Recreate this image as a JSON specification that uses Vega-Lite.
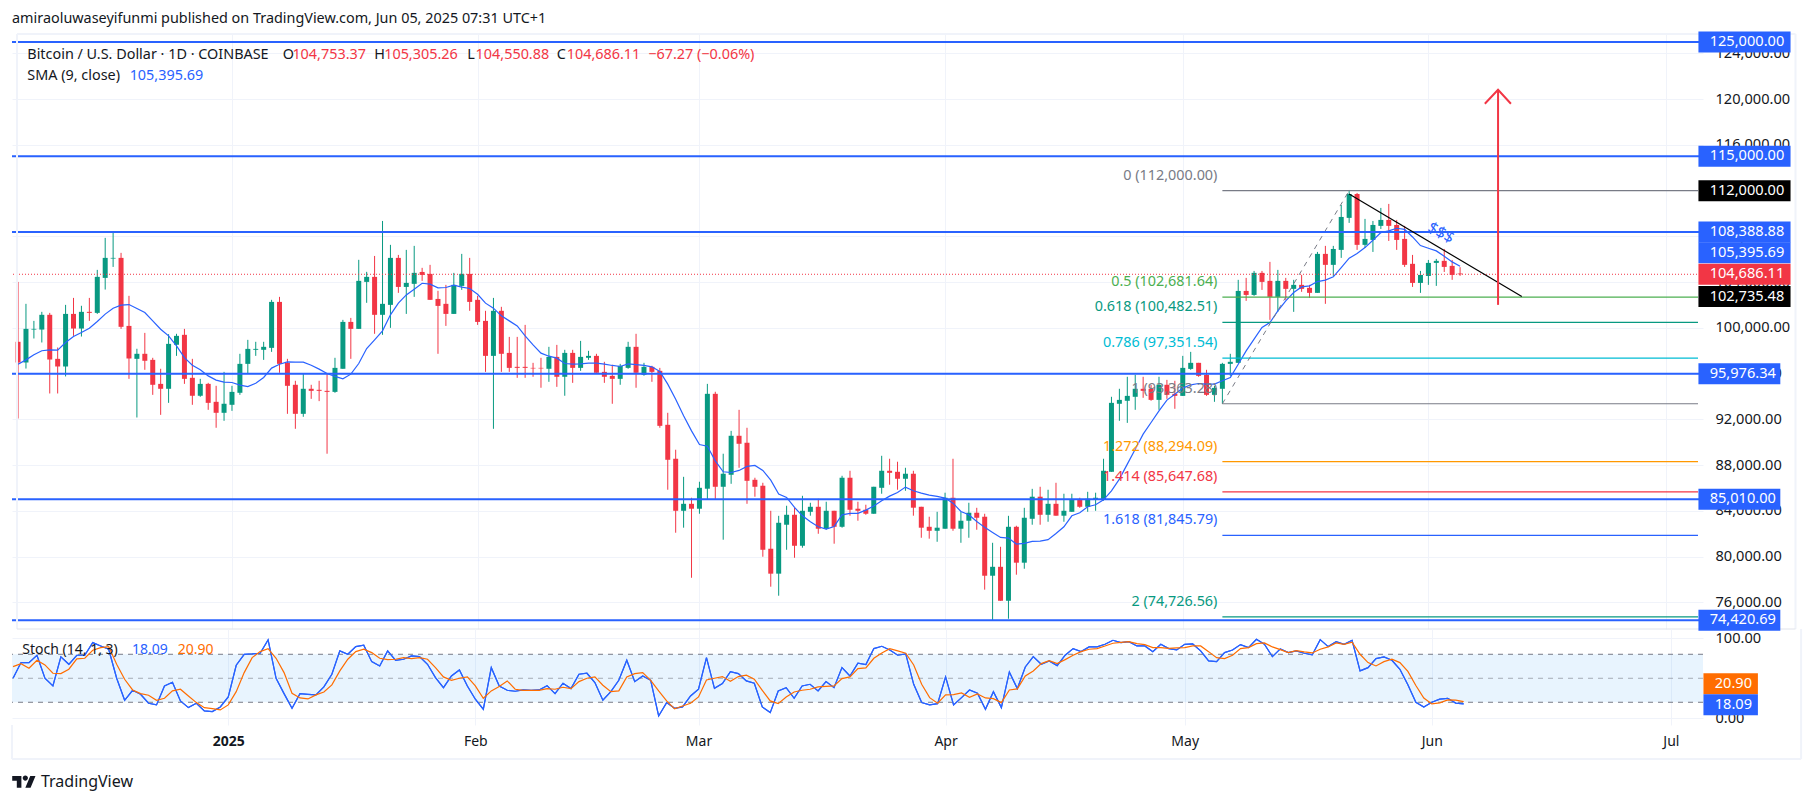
{
"$schema":"https://vega.github.io/schema/vega-lite/v6.json",
"padding":{"left":10,"top":11,"right":0,"bottom":12},
"background":"white",
"title":{"text":"amiraoluwaseyifunmi published on TradingView.com, Jun 05, 2025 07:31 UTC+1","anchor":"start","frame":"group","font":"Noto Sans","fontSize":14.4,"fontWeight":"normal","color":"#131722","offset":5},
"config":{"view":{"stroke":null},"font":"Noto Sans"},
"data":{"values":[{"note":"annotation"}]},
"datasets":{
"bars":[
{"date":"2024-12-05","open":98780,"high":104020,"low":92070,"close":96970,"sma":96820,"k":50,"d":64.6},
{"date":"2024-12-06","open":96970,"high":102100,"low":96440,"close":99910,"sma":97200,"k":69.6,"d":68.3},
{"date":"2024-12-07","open":99850,"high":100610,"low":99070,"close":99910,"sma":97640,"k":69.6,"d":62.5},
{"date":"2024-12-08","open":99850,"high":101400,"low":98720,"close":101140,"sma":98000,"k":78.8,"d":72.5},
{"date":"2024-12-09","open":101140,"high":101310,"low":94260,"close":97230,"sma":98080,"k":50,"d":66.7},
{"date":"2024-12-10","open":97290,"high":98280,"low":94260,"close":96620,"sma":98050,"k":40.4,"d":56.3},
{"date":"2024-12-11","open":96620,"high":102010,"low":95750,"close":101220,"sma":98720,"k":76.7,"d":55.8},
{"date":"2024-12-12","open":101220,"high":102620,"low":99300,"close":99940,"sma":99240,"k":67.5,"d":61.3},
{"date":"2024-12-13","open":99940,"high":101930,"low":99240,"close":101400,"sma":99590,"k":78.8,"d":74.2},
{"date":"2024-12-14","open":101400,"high":102620,"low":100610,"close":101310,"sma":99970,"k":78.8,"d":75},
{"date":"2024-12-15","open":101310,"high":105070,"low":101220,"close":104460,"sma":100560,"k":94.6,"d":85},
{"date":"2024-12-16","open":104370,"high":107870,"low":103350,"close":106120,"sma":101200,"k":90.4,"d":88.3},
{"date":"2024-12-17","open":106060,"high":108340,"low":105330,"close":106120,"sma":101720,"k":86.3,"d":89.6},
{"date":"2024-12-18","open":106120,"high":106560,"low":99910,"close":100090,"sma":101980,"k":50,"d":67.5},
{"date":"2024-12-19","open":100170,"high":102800,"low":95540,"close":97320,"sma":102040,"k":22.5,"d":48.8},
{"date":"2024-12-20","open":97290,"high":98170,"low":92160,"close":97730,"sma":101690,"k":35,"d":35.4},
{"date":"2024-12-21","open":97730,"high":99560,"low":96330,"close":97120,"sma":101340,"k":30,"d":30.8},
{"date":"2024-12-22","open":97200,"high":97380,"low":94140,"close":95020,"sma":100610,"k":18.8,"d":28.8},
{"date":"2024-12-23","open":95100,"high":96420,"low":92390,"close":94670,"sma":99880,"k":16.7,"d":22.5},
{"date":"2024-12-24","open":94670,"high":99450,"low":93440,"close":98600,"sma":99300,"k":40.4,"d":25},
{"date":"2024-12-25","open":98520,"high":99480,"low":97550,"close":99300,"sma":98430,"k":45,"d":34.2},
{"date":"2024-12-26","open":99390,"high":99910,"low":95100,"close":95540,"sma":97400,"k":21.7,"d":36.3},
{"date":"2024-12-27","open":95630,"high":97290,"low":93270,"close":94060,"sma":96730,"k":13.3,"d":27.9},
{"date":"2024-12-28","open":94060,"high":95540,"low":93970,"close":95100,"sma":96330,"k":18.8,"d":19.6},
{"date":"2024-12-29","open":95100,"high":95190,"low":92830,"close":93440,"sma":95800,"k":9.2,"d":13.3},
{"date":"2024-12-30","open":93530,"high":94930,"low":91260,"close":92570,"sma":95430,"k":8.3,"d":12.1},
{"date":"2024-12-31","open":92570,"high":96150,"low":91870,"close":93360,"sma":95250,"k":14.2,"d":10.4},
{"date":"2025-01-01","open":93270,"high":94930,"low":92740,"close":94400,"sma":95220,"k":26.7,"d":16.7},
{"date":"2025-01-02","open":94320,"high":97730,"low":94140,"close":96850,"sma":94990,"k":66.3,"d":33.3},
{"date":"2025-01-03","open":96850,"high":98950,"low":95980,"close":98160,"sma":94870,"k":80,"d":57.1},
{"date":"2025-01-04","open":98080,"high":98780,"low":97550,"close":98160,"sma":95160,"k":80.4,"d":75.8},
{"date":"2025-01-05","open":98080,"high":98780,"low":97200,"close":98340,"sma":95660,"k":81.3,"d":83.3},
{"date":"2025-01-06","open":98250,"high":102450,"low":97900,"close":102270,"sma":96480,"k":97.9,"d":87.1},
{"date":"2025-01-07","open":102270,"high":102710,"low":96070,"close":96850,"sma":96820,"k":50,"d":75},
{"date":"2025-01-08","open":96940,"high":97290,"low":92480,"close":94930,"sma":97030,"k":30.8,"d":57.1},
{"date":"2025-01-09","open":95020,"high":95370,"low":91170,"close":92480,"sma":97000,"k":12.5,"d":31.3},
{"date":"2025-01-10","open":92480,"high":95980,"low":92220,"close":94670,"sma":97000,"k":30.8,"d":25.4},
{"date":"2025-01-11","open":94670,"high":95020,"low":93790,"close":94490,"sma":96730,"k":30,"d":24.2},
{"date":"2025-01-12","open":94580,"high":95370,"low":93590,"close":94490,"sma":96390,"k":29.2,"d":29.2},
{"date":"2025-01-13","open":94490,"high":95980,"low":88990,"close":94400,"sma":96010,"k":39.2,"d":32.9},
{"date":"2025-01-14","open":94400,"high":97380,"low":94320,"close":96500,"sma":95750,"k":55,"d":41.7},
{"date":"2025-01-15","open":96420,"high":100700,"low":96420,"close":100520,"sma":95540,"k":84.2,"d":59.2},
{"date":"2025-01-16","open":100520,"high":100870,"low":97290,"close":99910,"sma":95950,"k":80,"d":73.8},
{"date":"2025-01-17","open":99910,"high":105950,"low":99910,"close":104110,"sma":96880,"k":89.6,"d":83.3},
{"date":"2025-01-18","open":104020,"high":104900,"low":102190,"close":104460,"sma":98190,"k":91.3,"d":86.3},
{"date":"2025-01-19","open":104460,"high":106290,"low":99480,"close":101140,"sma":98950,"k":70.8,"d":82.1},
{"date":"2025-01-20","open":101140,"high":109350,"low":99390,"close":102100,"sma":99740,"k":65.4,"d":75},
{"date":"2025-01-21","open":102010,"high":107260,"low":100000,"close":106120,"sma":101140,"k":84.2,"d":73.3},
{"date":"2025-01-22","open":106120,"high":106380,"low":103060,"close":103580,"sma":102160,"k":72.5,"d":73.8},
{"date":"2025-01-23","open":103580,"high":106820,"low":101220,"close":103930,"sma":102880,"k":73.8,"d":75.8},
{"date":"2025-01-24","open":103850,"high":107170,"low":102710,"close":104810,"sma":103380,"k":77.9,"d":74.6},
{"date":"2025-01-25","open":104890,"high":105250,"low":104110,"close":104630,"sma":103900,"k":77.1,"d":75.8},
{"date":"2025-01-26","open":104720,"high":105510,"low":102450,"close":102450,"sma":103820,"k":67.5,"d":73.8},
{"date":"2025-01-27","open":102530,"high":103240,"low":97730,"close":101920,"sma":103500,"k":50.8,"d":63.3},
{"date":"2025-01-28","open":102100,"high":103760,"low":100170,"close":101220,"sma":103530,"k":38.3,"d":51.7},
{"date":"2025-01-29","open":101220,"high":104810,"low":101220,"close":103760,"sma":103730,"k":52.9,"d":47.5},
{"date":"2025-01-30","open":103670,"high":106470,"low":103320,"close":104720,"sma":103560,"k":60.4,"d":50},
{"date":"2025-01-31","open":104720,"high":106120,"low":101490,"close":102270,"sma":103440,"k":40.4,"d":51.7},
{"date":"2025-02-01","open":102450,"high":102800,"low":100260,"close":100520,"sma":102940,"k":23.8,"d":40.4},
{"date":"2025-02-02","open":100610,"high":101490,"low":96150,"close":97550,"sma":102160,"k":11.3,"d":25},
{"date":"2025-02-03","open":97550,"high":102620,"low":91170,"close":101490,"sma":101720,"k":63.3,"d":34.2},
{"date":"2025-02-04","open":101490,"high":101840,"low":96150,"close":97730,"sma":101050,"k":40.4,"d":39.6},
{"date":"2025-02-05","open":97810,"high":99210,"low":96150,"close":96500,"sma":100610,"k":35,"d":46.7},
{"date":"2025-02-06","open":96590,"high":99210,"low":95630,"close":96500,"sma":100170,"k":33.8,"d":36.3},
{"date":"2025-02-07","open":96590,"high":100260,"low":95630,"close":96500,"sma":99300,"k":35.4,"d":35},
{"date":"2025-02-08","open":96500,"high":96940,"low":95720,"close":96450,"sma":98510,"k":35,"d":35},
{"date":"2025-02-09","open":96500,"high":97380,"low":94760,"close":96450,"sma":97790,"k":35.4,"d":35},
{"date":"2025-02-10","open":96420,"high":98340,"low":95280,"close":97460,"sma":97520,"k":40.8,"d":37.1},
{"date":"2025-02-11","open":97460,"high":98510,"low":94840,"close":95720,"sma":97350,"k":30.8,"d":36.3},
{"date":"2025-02-12","open":95720,"high":98080,"low":94060,"close":97810,"sma":96880,"k":43.8,"d":38.8},
{"date":"2025-02-13","open":97810,"high":98080,"low":95190,"close":96500,"sma":96820,"k":37.1,"d":37.1},
{"date":"2025-02-14","open":96500,"high":98860,"low":96240,"close":97460,"sma":96850,"k":55,"d":45.8},
{"date":"2025-02-15","open":97380,"high":97990,"low":97200,"close":97550,"sma":96910,"k":56.3,"d":50},
{"date":"2025-02-16","open":97550,"high":97730,"low":96070,"close":96070,"sma":96910,"k":44.6,"d":51.7},
{"date":"2025-02-17","open":96150,"high":97030,"low":95190,"close":95720,"sma":96820,"k":22.5,"d":41.3},
{"date":"2025-02-18","open":95800,"high":96770,"low":93360,"close":95540,"sma":96710,"k":33.3,"d":33.3},
{"date":"2025-02-19","open":95540,"high":96850,"low":95020,"close":96680,"sma":96620,"k":47.5,"d":34.2},
{"date":"2025-02-20","open":96500,"high":98780,"low":96420,"close":98340,"sma":96850,"k":72.5,"d":51.7},
{"date":"2025-02-21","open":98340,"high":99480,"low":94760,"close":96070,"sma":96790,"k":45.8,"d":55.8},
{"date":"2025-02-22","open":95890,"high":96940,"low":95810,"close":96590,"sma":96710,"k":52.9,"d":57.1},
{"date":"2025-02-23","open":96590,"high":96680,"low":95280,"close":96150,"sma":96590,"k":47.5,"d":47.5},
{"date":"2025-02-24","open":96240,"high":96500,"low":91260,"close":91430,"sma":96180,"k":2.9,"d":34.2},
{"date":"2025-02-25","open":91520,"high":92570,"low":85840,"close":88460,"sma":95080,"k":19.6,"d":21.7},
{"date":"2025-02-26","open":88550,"high":89340,"low":82080,"close":84000,"sma":93760,"k":12.5,"d":11.7},
{"date":"2025-02-27","open":84000,"high":86970,"low":82520,"close":84610,"sma":92310,"k":14.2,"d":15.4},
{"date":"2025-02-28","open":84610,"high":85140,"low":78140,"close":84180,"sma":90990,"k":27.9,"d":18.8},
{"date":"2025-03-01","open":84180,"high":86540,"low":83740,"close":86010,"sma":89800,"k":36.3,"d":26.7},
{"date":"2025-03-02","open":85930,"high":95100,"low":84960,"close":94230,"sma":89650,"k":75.8,"d":47.9},
{"date":"2025-03-03","open":94230,"high":94410,"low":84960,"close":86100,"sma":88370,"k":37.5,"d":50},
{"date":"2025-03-04","open":86100,"high":88990,"low":81470,"close":87240,"sma":87410,"k":43.3,"d":52.1},
{"date":"2025-03-05","open":87150,"high":90990,"low":86360,"close":90560,"sma":87350,"k":58.3,"d":46.3},
{"date":"2025-03-06","open":90560,"high":92830,"low":87760,"close":89860,"sma":87530,"k":55.8,"d":52.1},
{"date":"2025-03-07","open":89950,"high":91260,"low":84610,"close":86620,"sma":87880,"k":46.7,"d":53.8},
{"date":"2025-03-08","open":86710,"high":86890,"low":85230,"close":86100,"sma":87970,"k":43.8,"d":48.8},
{"date":"2025-03-09","open":86190,"high":86450,"low":79980,"close":80590,"sma":87530,"k":14.2,"d":35},
{"date":"2025-03-10","open":80680,"high":84000,"low":77360,"close":78500,"sma":86680,"k":7.1,"d":21.7},
{"date":"2025-03-11","open":78500,"high":83560,"low":76570,"close":82950,"sma":85460,"k":34.2,"d":18.3},
{"date":"2025-03-12","open":82780,"high":84440,"low":80590,"close":83650,"sma":85170,"k":38.3,"d":26.7},
{"date":"2025-03-13","open":83650,"high":84260,"low":79890,"close":80940,"sma":84290,"k":25,"d":32.9},
{"date":"2025-03-14","open":80940,"high":85310,"low":80770,"close":84000,"sma":83560,"k":40.4,"d":35},
{"date":"2025-03-15","open":83910,"high":84700,"low":83570,"close":84350,"sma":83040,"k":42.5,"d":36.3},
{"date":"2025-03-16","open":84350,"high":85050,"low":81990,"close":82430,"sma":82600,"k":34.2,"d":39.2},
{"date":"2025-03-17","open":82430,"high":84790,"low":82340,"close":84000,"sma":82400,"k":45.8,"d":40},
{"date":"2025-03-18","open":84000,"high":84000,"low":81120,"close":82600,"sma":82630,"k":38.3,"d":40.4},
{"date":"2025-03-19","open":82600,"high":87060,"low":82520,"close":86890,"sma":83650,"k":63.3,"d":49.6},
{"date":"2025-03-20","open":86890,"high":87500,"low":83570,"close":84090,"sma":83770,"k":52.9,"d":51.7},
{"date":"2025-03-21","open":84180,"high":84790,"low":83130,"close":84000,"sma":83770,"k":68.8,"d":62.1},
{"date":"2025-03-22","open":84090,"high":84530,"low":83650,"close":83740,"sma":84060,"k":67.1,"d":62.9},
{"date":"2025-03-23","open":83740,"high":86100,"low":83740,"close":86100,"sma":84410,"k":87.1,"d":75},
{"date":"2025-03-24","open":86010,"high":88810,"low":85490,"close":87500,"sma":84870,"k":90,"d":81.7},
{"date":"2025-03-25","open":87500,"high":88550,"low":86280,"close":87320,"sma":85280,"k":85.4,"d":87.1},
{"date":"2025-03-26","open":87410,"high":88290,"low":85840,"close":86800,"sma":85600,"k":78.8,"d":84.2},
{"date":"2025-03-27","open":86800,"high":87760,"low":85750,"close":87240,"sma":86070,"k":80.4,"d":81.3},
{"date":"2025-03-28","open":87240,"high":87500,"low":83570,"close":84270,"sma":85750,"k":42.5,"d":66.7},
{"date":"2025-03-29","open":84350,"high":84350,"low":81640,"close":82520,"sma":85550,"k":19.6,"d":42.5},
{"date":"2025-03-30","open":82600,"high":83480,"low":81560,"close":82250,"sma":85370,"k":16.7,"d":25.8},
{"date":"2025-03-31","open":82250,"high":83910,"low":81290,"close":82520,"sma":85260,"k":18.3,"d":18.8},
{"date":"2025-04-01","open":82430,"high":85580,"low":82430,"close":85140,"sma":85110,"k":51.7,"d":29.2},
{"date":"2025-04-02","open":85140,"high":88550,"low":82250,"close":82430,"sma":84670,"k":16.7,"d":29.6},
{"date":"2025-04-03","open":82430,"high":83910,"low":81200,"close":83130,"sma":83940,"k":25.8,"d":31.7},
{"date":"2025-04-04","open":83130,"high":84700,"low":81640,"close":83830,"sma":83650,"k":35.4,"d":26.3},
{"date":"2025-04-05","open":83830,"high":84260,"low":82340,"close":83390,"sma":83070,"k":31.3,"d":30.4},
{"date":"2025-04-06","open":83480,"high":83740,"low":77100,"close":78320,"sma":82550,"k":11.3,"d":25.4},
{"date":"2025-04-07","open":78320,"high":81200,"low":74390,"close":79100,"sma":82110,"k":33.3,"d":24.6},
{"date":"2025-04-08","open":79100,"high":80850,"low":76130,"close":76130,"sma":81670,"k":13.3,"d":19.6},
{"date":"2025-04-09","open":76130,"high":83560,"low":74560,"close":82600,"sma":81610,"k":57.9,"d":35.4},
{"date":"2025-04-10","open":82600,"high":82690,"low":78410,"close":79460,"sma":81090,"k":37.1,"d":36.7},
{"date":"2025-04-11","open":79460,"high":84260,"low":78930,"close":83390,"sma":81150,"k":64.2,"d":52.9},
{"date":"2025-04-12","open":83300,"high":85920,"low":82780,"close":85230,"sma":81320,"k":77.1,"d":59.2},
{"date":"2025-04-13","open":85230,"high":86100,"low":82780,"close":83650,"sma":81350,"k":67.5,"d":68.3},
{"date":"2025-04-14","open":83650,"high":85840,"low":83040,"close":84610,"sma":81470,"k":71.7,"d":72.1},
{"date":"2025-04-15","open":84610,"high":86450,"low":83570,"close":83570,"sma":82020,"k":65.8,"d":68.3},
{"date":"2025-04-16","open":83570,"high":85490,"low":83040,"close":84000,"sma":82600,"k":78.8,"d":73.3},
{"date":"2025-04-17","open":83910,"high":85490,"low":83910,"close":84960,"sma":83560,"k":87.1,"d":78.8},
{"date":"2025-04-18","open":84960,"high":85140,"low":84260,"close":84350,"sma":83830,"k":83.3,"d":83.3},
{"date":"2025-04-19","open":84350,"high":85660,"low":83910,"close":85050,"sma":84350,"k":89.2,"d":86.3},
{"date":"2025-04-20","open":84960,"high":85580,"low":84000,"close":85140,"sma":84530,"k":89.2,"d":87.1},
{"date":"2025-04-21","open":84960,"high":88550,"low":84880,"close":87500,"sma":84960,"k":92.5,"d":90.4},
{"date":"2025-04-22","open":87410,"high":93970,"low":87410,"close":93440,"sma":85750,"k":97.5,"d":93.8},
{"date":"2025-04-23","open":93360,"high":94670,"low":91870,"close":93700,"sma":86770,"k":94.6,"d":95},
{"date":"2025-04-24","open":93620,"high":95720,"low":91690,"close":94050,"sma":88080,"k":95.8,"d":95.8},
{"date":"2025-04-25","open":93970,"high":95890,"low":92830,"close":94670,"sma":89390,"k":90.4,"d":93.3},
{"date":"2025-04-26","open":94670,"high":95720,"low":93880,"close":94490,"sma":90700,"k":90.4,"d":92.1},
{"date":"2025-04-27","open":94670,"high":95020,"low":93620,"close":93700,"sma":91720,"k":83.3,"d":88.3},
{"date":"2025-04-28","open":93700,"high":95720,"low":92830,"close":95020,"sma":92740,"k":92.5,"d":88.3},
{"date":"2025-04-29","open":95020,"high":95450,"low":93790,"close":94140,"sma":93680,"k":87.1,"d":87.5},
{"date":"2025-04-30","open":94230,"high":95370,"low":92920,"close":94050,"sma":94200,"k":85.4,"d":87.9},
{"date":"2025-05-01","open":94050,"high":97550,"low":94050,"close":96500,"sma":94730,"k":92.5,"d":88.3},
{"date":"2025-05-02","open":96410,"high":97900,"low":96330,"close":96940,"sma":95020,"k":92.9,"d":90.4},
{"date":"2025-05-03","open":96940,"high":96940,"low":95720,"close":95800,"sma":95130,"k":84.2,"d":90.4},
{"date":"2025-05-04","open":95890,"high":96330,"low":94050,"close":94140,"sma":95080,"k":71.7,"d":83.3},
{"date":"2025-05-05","open":94140,"high":94930,"low":93530,"close":94750,"sma":95080,"k":70.8,"d":75.8},
{"date":"2025-05-06","open":94670,"high":96940,"low":93350,"close":96850,"sma":95370,"k":82.1,"d":74.6},
{"date":"2025-05-07","open":96850,"high":97730,"low":95800,"close":97030,"sma":95660,"k":85.4,"d":78.8},
{"date":"2025-05-08","open":96940,"high":104200,"low":96940,"close":103230,"sma":96820,"k":92.1,"d":87.1},
{"date":"2025-05-09","open":103230,"high":104370,"low":102360,"close":102880,"sma":97990,"k":88.3,"d":88.3},
{"date":"2025-05-10","open":102880,"high":104980,"low":102800,"close":104810,"sma":99010,"k":98.8,"d":93.3},
{"date":"2025-05-11","open":104810,"high":104980,"low":103320,"close":104020,"sma":100030,"k":92.5,"d":94.2},
{"date":"2025-05-12","open":104110,"high":105770,"low":100700,"close":102710,"sma":100460,"k":77.1,"d":89.2},
{"date":"2025-05-13","open":102710,"high":105070,"low":101400,"close":104110,"sma":101480,"k":86.7,"d":85.8},
{"date":"2025-05-14","open":104110,"high":104370,"low":102450,"close":103410,"sma":102360,"k":82.1,"d":82.1},
{"date":"2025-05-15","open":103410,"high":104200,"low":101400,"close":103760,"sma":103090,"k":84.2,"d":84.6},
{"date":"2025-05-16","open":103760,"high":104630,"low":103150,"close":103410,"sma":103580,"k":81.3,"d":82.9},
{"date":"2025-05-17","open":103500,"high":103760,"low":102620,"close":103060,"sma":103670,"k":79.2,"d":81.7},
{"date":"2025-05-18","open":103060,"high":106640,"low":103060,"close":106470,"sma":104050,"k":98.3,"d":86.3},
{"date":"2025-05-19","open":106470,"high":107170,"low":102100,"close":105510,"sma":104170,"k":89.6,"d":89.2},
{"date":"2025-05-20","open":105510,"high":107170,"low":104540,"close":106900,"sma":104460,"k":95.8,"d":94.2},
{"date":"2025-05-21","open":106820,"high":110750,"low":106120,"close":109700,"sma":105270,"k":92.5,"d":92.5},
{"date":"2025-05-22","open":109620,"high":112060,"low":109180,"close":111710,"sma":106090,"k":97.5,"d":95},
{"date":"2025-05-23","open":111710,"high":111800,"low":106820,"close":107260,"sma":106500,"k":59.2,"d":80},
{"date":"2025-05-24","open":107260,"high":109530,"low":106990,"close":107780,"sma":107020,"k":63.3,"d":69.6},
{"date":"2025-05-25","open":107690,"high":109350,"low":106640,"close":109000,"sma":107660,"k":74.6,"d":65.4},
{"date":"2025-05-26","open":108920,"high":110490,"low":108650,"close":109440,"sma":108330,"k":76.7,"d":70.8},
{"date":"2025-05-27","open":109440,"high":110840,"low":107600,"close":108920,"sma":108480,"k":72.5,"d":73.8},
{"date":"2025-05-28","open":109000,"high":109440,"low":106820,"close":107690,"sma":108710,"k":61.3,"d":69.6},
{"date":"2025-05-29","open":107780,"high":108920,"low":105330,"close":105510,"sma":108620,"k":42,"d":58.6},
{"date":"2025-05-30","open":105600,"high":106380,"low":103580,"close":103930,"sma":107950,"k":20,"d":41},
{"date":"2025-05-31","open":103930,"high":104980,"low":103060,"close":104630,"sma":107200,"k":14,"d":25.3},
{"date":"2025-06-01","open":104540,"high":105940,"low":103760,"close":105680,"sma":106960,"k":20,"d":18},
{"date":"2025-06-02","open":105680,"high":106030,"low":103670,"close":105860,"sma":106730,"k":24,"d":19.3},
{"date":"2025-06-03","open":105860,"high":106900,"low":104890,"close":105330,"sma":106260,"k":25,"d":23},
{"date":"2025-06-04","open":105420,"high":105940,"low":104200,"close":104630,"sma":105770,"k":19,"d":22.7},
{"date":"2025-06-05","open":104753.37,"high":105305.26,"low":104550.88,"close":104686.11,"sma":105395.69,"k":18.09,"d":20.9}
],
"levels":[{"price":125000},{"price":115000},{"price":108388.88},{"price":95976.34},{"price":85010},{"price":74420.69}],
"fib":[
{"level":"0","price":112000,"label":"0 (112,000.00)"},
{"level":"0.5","price":102681.64,"label":"0.5 (102,681.64)"},
{"level":"0.618","price":100482.51,"label":"0.618 (100,482.51)"},
{"level":"0.786","price":97351.54,"label":"0.786 (97,351.54)"},
{"level":"1","price":93363.28,"label":"1 (93,363.28)"},
{"level":"1.272","price":88294.09,"label":"1.272 (88,294.09)"},
{"level":"1.414","price":85647.68,"label":"1.414 (85,647.68)"},
{"level":"1.618","price":81845.79,"label":"1.618 (81,845.79)"},
{"level":"2","price":74726.56,"label":"2 (74,726.56)"}
],
"fibTrend":[{"date":"2025-05-06","price":93363.28},{"date":"2025-05-22","price":112000}],
"resistance":[{"date":"2025-05-22","price":111700},{"date":"2025-06-12T19:00:00Z","price":102735.48}],
"arrowHead":[{"date":"2025-06-08T03:00:00Z","price":119600},{"date":"2025-06-09T19:00:00Z","price":120820},{"date":"2025-06-11T10:00:00Z","price":119600}],
"readout":[
{"text":"Bitcoin / U.S. Dollar · 1D · COINBASE","date":"2024-12-06T04:00:00Z","price":123870,"kind":"name"},
{"text":"O","date":"2025-01-07T10:00:00Z","price":123870,"kind":"name"},
{"text":"104,753.37","date":"2025-01-08T15:00:00Z","price":123870,"kind":"down"},
{"text":"H","date":"2025-01-18T23:00:00Z","price":123870,"kind":"name"},
{"text":"105,305.26","date":"2025-01-20T05:00:00Z","price":123870,"kind":"down"},
{"text":"L","date":"2025-01-30T17:00:00Z","price":123870,"kind":"name"},
{"text":"104,550.88","date":"2025-01-31T18:00:00Z","price":123870,"kind":"down"},
{"text":"C","date":"2025-02-11T00:00:00Z","price":123870,"kind":"name"},
{"text":"104,686.11","date":"2025-02-12T06:00:00Z","price":123870,"kind":"down"},
{"text":"−67.27 (−0.06%)","date":"2025-02-22T13:00:00Z","price":123870,"kind":"down"},
{"text":"SMA (9, close)","date":"2024-12-06T04:00:00Z","price":122030,"kind":"name"},
{"text":"105,395.69","date":"2024-12-19T02:00:00Z","price":122030,"kind":"sma"}
],
"tagsWide":[
{"label":"125,000.00","at":125000,"kind":"line"},
{"label":"115,000.00","at":115000,"kind":"line"},
{"label":"112,000.00","at":112000,"kind":"black"},
{"label":"108,388.88","at":108388.88,"kind":"line"},
{"label":"105,395.69","at":106560,"kind":"line"},
{"label":"104,686.11","at":104686.11,"kind":"close"},
{"label":"102,735.48","at":102735.48,"kind":"black"}
],
"tagsMid":[{"label":"95,976.34","at":95976.34},{"label":"85,010.00","at":85010},{"label":"74,420.69","at":74420.69}],
"tagsStoch":[{"label":"20.90","at":43.3,"kind":"d"},{"label":"18.09","at":17,"kind":"k"}]
},
"vconcat":[
{
"width":1691,"height":595,
"layer":[
{"data":{"name":"bars"},"mark":{"type":"rule","strokeWidth":1,"clip":true},
"encoding":{
"x":{"field":"date","type":"temporal","scale":{"type":"utc","nice":false,"domain":[{"utc":true,"year":2024,"month":12,"date":4,"hours":20,"minutes":50},{"utc":true,"year":2025,"month":7,"date":5,"hours":0,"minutes":40}]},
"axis":{"title":null,"labels":false,"ticks":false,"domain":false,"grid":true,"gridColor":"#f0f3fa","gridWidth":1,"values":[{"utc":true,"year":2025,"month":1,"date":1},{"utc":true,"year":2025,"month":2,"date":1},{"utc":true,"year":2025,"month":3,"date":1},{"utc":true,"year":2025,"month":4,"date":1},{"utc":true,"year":2025,"month":5,"date":1},{"utc":true,"year":2025,"month":6,"date":1},{"utc":true,"year":2025,"month":7,"date":1}]}},
"y":{"field":"low","type":"quantitative","scale":{"nice":false,"zero":false,"domain":[73660,125702]},
"axis":{"title":null,"orient":"right","domain":false,"ticks":false,"grid":true,"gridColor":"#f0f3fa","gridWidth":1,"labelPadding":12,"labelFont":"Noto Sans","labelFontSize":14.6,"labelColor":"#131722","format":",.2f","values":[76000,80000,84000,88000,92000,96000,100000,104000,108000,116000,120000,124000]}},
"y2":{"field":"high"},
"color":{"condition":{"test":"datum.close >= datum.open","value":"#089981"},"value":"#f23645"}}},
{"data":{"name":"bars"},"mark":{"type":"bar","size":5,"clip":true},
"encoding":{
"x":{"field":"date","type":"temporal"},
"y":{"field":"open","type":"quantitative"},
"y2":{"field":"close"},
"color":{"condition":{"test":"datum.close >= datum.open","value":"#089981"},"value":"#f23645"}}},
{"data":{"name":"bars"},"mark":{"type":"line","color":"#2962ff","strokeWidth":1.2,"clip":true},
"encoding":{"x":{"field":"date","type":"temporal"},"y":{"field":"sma","type":"quantitative"}}},
{"mark":{"type":"rule","color":"#f23645","strokeWidth":1,"strokeDash":[1,2]},"encoding":{"y":{"datum":104686.11,"type":"quantitative"}}},
{"data":{"name":"fib"},"mark":{"type":"rule","strokeWidth":1.2},
"encoding":{
"x":{"datum":{"utc":true,"year":2025,"month":5,"date":6},"type":"temporal"},
"x2":{"datum":{"utc":true,"year":2025,"month":7,"date":5,"hours":0,"minutes":40}},
"y":{"field":"price","type":"quantitative"},
"color":{"field":"level","type":"nominal","legend":null,"scale":{"domain":["0","0.5","0.618","0.786","1","1.272","1.414","1.618","2","name","down","sma","line","black","close","d","k"],"range":["#787b86","#4caf50","#089981","#00bcd4","#787b86","#ff9800","#f23645","#2962ff","#089981","#131722","#f23645","#2962ff","#2962ff","#000000","#f23645","#ff6d00","#2962ff"]}}}},
{"data":{"name":"fibTrend"},"mark":{"type":"line","color":"#787b86","strokeWidth":1,"strokeDash":[5,5]},
"encoding":{"x":{"field":"date","type":"temporal"},"y":{"field":"price","type":"quantitative"}}},
{"data":{"name":"levels"},"mark":{"type":"rule","color":"#2962ff","strokeWidth":2},"encoding":{"y":{"field":"price","type":"quantitative"}}},
{"data":{"name":"resistance"},"mark":{"type":"line","color":"#000000","strokeWidth":1.2},
"encoding":{"x":{"field":"date","type":"temporal"},"y":{"field":"price","type":"quantitative"}}},
{"mark":{"type":"rule","color":"#f23645","strokeWidth":2},
"encoding":{"x":{"datum":{"utc":true,"year":2025,"month":6,"date":9,"hours":19},"type":"temporal"},"y":{"datum":102010,"type":"quantitative"},"y2":{"datum":120820}}},
{"data":{"name":"arrowHead"},"mark":{"type":"line","color":"#f23645","strokeWidth":2},
"encoding":{"x":{"field":"date","type":"temporal"},"y":{"field":"price","type":"quantitative"}}},
{"data":{"name":"fib"},"mark":{"type":"text","align":"right","baseline":"middle","dy":-15,"font":"Noto Sans","fontSize":14.4},
"encoding":{
"x":{"datum":{"utc":true,"year":2025,"month":5,"date":5,"hours":9},"type":"temporal"},
"y":{"field":"price","type":"quantitative"},
"text":{"field":"label"},
"color":{"field":"level","type":"nominal","legend":null}}},
{"mark":{"type":"text","text":"$$$","angle":28,"color":"#2962ff","font":"Noto Sans","fontSize":16},
"encoding":{"x":{"datum":{"utc":true,"year":2025,"month":6,"date":2,"hours":14},"type":"temporal"},"y":{"datum":108300,"type":"quantitative"}}},
{"data":{"name":"readout"},"mark":{"type":"text","align":"left","baseline":"middle","font":"Noto Sans","fontSize":14.4},
"encoding":{
"x":{"field":"date","type":"temporal"},
"y":{"field":"price","type":"quantitative"},
"text":{"field":"text"},
"color":{"field":"kind","type":"nominal","legend":null}}},
{"mark":{"type":"rule","color":"#f0f3fa","strokeWidth":2},
"encoding":{"x":{"datum":{"utc":true,"year":2024,"month":12,"date":4,"hours":20,"minutes":50},"type":"temporal"}}},
{"mark":{"type":"rule","color":"#f0f3fa","strokeWidth":2},
"encoding":{"x":{"datum":{"utc":true,"year":2025,"month":7,"date":17,"hours":8},"type":"temporal"}}},
{"mark":{"type":"rule","color":"#f0f3fa","strokeWidth":2},
"encoding":{"x":{"datum":{"utc":true,"year":2024,"month":12,"date":4,"hours":20,"minutes":50},"type":"temporal"},"x2":{"datum":{"utc":true,"year":2025,"month":7,"date":17,"hours":8}},"y":{"datum":125702,"type":"quantitative"}}},
{"mark":{"type":"rule","color":"#e0e3eb","strokeWidth":1},
"encoding":{"x":{"datum":{"utc":true,"year":2024,"month":12,"date":4,"hours":20,"minutes":50},"type":"temporal"},"x2":{"datum":{"utc":true,"year":2025,"month":7,"date":17,"hours":8}},"y":{"datum":73660,"type":"quantitative"}}},
{"data":{"name":"tagsWide"},"mark":{"type":"rule","strokeWidth":21},
"encoding":{
"x":{"datum":{"utc":true,"year":2025,"month":7,"date":5,"hours":2},"type":"temporal"},
"x2":{"datum":{"utc":true,"year":2025,"month":7,"date":16,"hours":17}},
"y":{"field":"at","type":"quantitative"},
"color":{"field":"kind","type":"nominal","legend":null}}},
{"data":{"name":"tagsMid"},"mark":{"type":"rule","strokeWidth":21,"color":"#2962ff"},
"encoding":{
"x":{"datum":{"utc":true,"year":2025,"month":7,"date":5,"hours":2},"type":"temporal"},
"x2":{"datum":{"utc":true,"year":2025,"month":7,"date":15,"hours":10}},
"y":{"field":"at","type":"quantitative"}}},
{"data":{"name":"tagsWide"},"mark":{"type":"text","align":"left","baseline":"middle","color":"white","font":"Noto Sans","fontSize":14.6},
"encoding":{"x":{"datum":{"utc":true,"year":2025,"month":7,"date":6,"hours":12},"type":"temporal"},"y":{"field":"at","type":"quantitative"},"text":{"field":"label"}}},
{"data":{"name":"tagsMid"},"mark":{"type":"text","align":"left","baseline":"middle","color":"white","font":"Noto Sans","fontSize":14.6},
"encoding":{"x":{"datum":{"utc":true,"year":2025,"month":7,"date":6,"hours":12},"type":"temporal"},"y":{"field":"at","type":"quantitative"},"text":{"field":"label"}}}
]
},
{
"width":1691,"height":96,
"layer":[
{"data":{"name":"bars"},"mark":{"type":"line","color":"#2962ff","strokeWidth":1.2},
"encoding":{
"x":{"field":"date","type":"temporal","scale":{"type":"utc","nice":false,"domain":[{"utc":true,"year":2024,"month":12,"date":4,"hours":20,"minutes":50},{"utc":true,"year":2025,"month":7,"date":5,"hours":0,"minutes":40}]},
"axis":{"title":null,"orient":"bottom","domain":false,"ticks":false,"grid":true,"gridColor":"#f0f3fa","gridWidth":1,"labelPadding":9,"labelFont":"Noto Sans","labelFontSize":14,"labelColor":"#131722","labelFontWeight":{"condition":{"test":"utcFormat(datum.value,'%m')=='01'","value":"bold"},"value":"normal"},"labelExpr":"utcFormat(datum.value,'%m')=='01' ? '2025' : utcFormat(datum.value,'%b')","values":[{"utc":true,"year":2025,"month":1,"date":1},{"utc":true,"year":2025,"month":2,"date":1},{"utc":true,"year":2025,"month":3,"date":1},{"utc":true,"year":2025,"month":4,"date":1},{"utc":true,"year":2025,"month":5,"date":1},{"utc":true,"year":2025,"month":6,"date":1},{"utc":true,"year":2025,"month":7,"date":1}]}},
"y":{"field":"k","type":"quantitative","scale":{"nice":false,"zero":false,"domain":[-8.4,111.6]},
"axis":{"title":null,"orient":"right","domain":false,"ticks":false,"grid":true,"gridColor":"#f0f3fa","gridWidth":1,"labelPadding":12,"labelFont":"Noto Sans","labelFontSize":14.6,"labelColor":"#131722","format":".2f","values":[0,100]}}}},
{"mark":{"type":"rect","color":"#2196f3","opacity":0.1},
"encoding":{"y":{"datum":20,"type":"quantitative"},"y2":{"datum":80}}},
{"mark":{"type":"rule","color":"#787b86","strokeWidth":1,"strokeDash":[5,5]},"encoding":{"y":{"datum":80,"type":"quantitative"}}},
{"mark":{"type":"rule","color":"#787b86","opacity":0.6,"strokeWidth":1,"strokeDash":[5,5]},"encoding":{"y":{"datum":50,"type":"quantitative"}}},
{"mark":{"type":"rule","color":"#787b86","strokeWidth":1,"strokeDash":[5,5]},"encoding":{"y":{"datum":20,"type":"quantitative"}}},
{"data":{"name":"bars"},"mark":{"type":"line","color":"#2962ff","strokeWidth":1.2},
"encoding":{"x":{"field":"date","type":"temporal"},"y":{"field":"k","type":"quantitative"}}},
{"data":{"name":"bars"},"mark":{"type":"line","color":"#ff6d00","strokeWidth":1.2},
"encoding":{"x":{"field":"date","type":"temporal"},"y":{"field":"d","type":"quantitative"}}},
{"mark":{"type":"text","text":"Stoch (14, 1, 3)","align":"left","baseline":"middle","color":"#131722","font":"Noto Sans","fontSize":14},
"encoding":{"x":{"datum":{"utc":true,"year":2024,"month":12,"date":6,"hours":4},"type":"temporal"},"y":{"datum":85,"type":"quantitative"}}},
{"mark":{"type":"text","text":"18.09","align":"left","baseline":"middle","color":"#2962ff","font":"Noto Sans","fontSize":14},
"encoding":{"x":{"datum":{"utc":true,"year":2024,"month":12,"date":19,"hours":22},"type":"temporal"},"y":{"datum":85,"type":"quantitative"}}},
{"mark":{"type":"text","text":"20.90","align":"left","baseline":"middle","color":"#ff6d00","font":"Noto Sans","fontSize":14},
"encoding":{"x":{"datum":{"utc":true,"year":2024,"month":12,"date":25,"hours":16},"type":"temporal"},"y":{"datum":85,"type":"quantitative"}}},
{"mark":{"type":"rule","color":"#f0f3fa","strokeWidth":2},
"encoding":{"x":{"datum":{"utc":true,"year":2024,"month":12,"date":4,"hours":20,"minutes":50},"type":"temporal"},"y":{"datum":-8.4,"type":"quantitative"},"y2":{"datum":-51}}},
{"mark":{"type":"rule","color":"#f0f3fa","strokeWidth":2},
"encoding":{"x":{"datum":{"utc":true,"year":2025,"month":7,"date":17,"hours":8},"type":"temporal"},"y":{"datum":111.6,"type":"quantitative"},"y2":{"datum":-51}}},
{"mark":{"type":"rule","color":"#f0f3fa","strokeWidth":2},
"encoding":{"x":{"datum":{"utc":true,"year":2024,"month":12,"date":4,"hours":20,"minutes":50},"type":"temporal"},"x2":{"datum":{"utc":true,"year":2025,"month":7,"date":17,"hours":8}},"y":{"datum":-51,"type":"quantitative"}}},
{"data":{"name":"tagsStoch"},"mark":{"type":"rule","strokeWidth":21},
"encoding":{
"x":{"datum":{"utc":true,"year":2025,"month":7,"date":5,"hours":2},"type":"temporal"},
"x2":{"datum":{"utc":true,"year":2025,"month":7,"date":11,"hours":22}},
"y":{"field":"at","type":"quantitative"},
"color":{"field":"kind","type":"nominal","legend":null}}},
{"data":{"name":"tagsStoch"},"mark":{"type":"text","align":"left","baseline":"middle","color":"white","font":"Noto Sans","fontSize":14.6},
"encoding":{"x":{"datum":{"utc":true,"year":2025,"month":7,"date":6,"hours":12},"type":"temporal"},"y":{"field":"at","type":"quantitative"},"text":{"field":"label"}}},
{"mark":{"type":"point","filled":true,"opacity":1,"color":"#131722","size":557,"shape":"M-.222 .5H-.611V-.111H-1V-.5H-.222ZM.556 .5H.111L.528 -.5H.972ZM-.111 -.333a.222 .222 0 1 0 .444 0a.222 .222 0 1 0 -.444 0Z"},
"encoding":{"x":{"datum":{"utc":true,"year":2024,"month":12,"date":6,"hours":9},"type":"temporal"},"y":{"datum":-79.6,"type":"quantitative"}}},
{"mark":{"type":"text","text":"TradingView","align":"left","baseline":"middle","color":"#131722","font":"Noto Sans","fontSize":16},
"encoding":{"x":{"datum":{"utc":true,"year":2024,"month":12,"date":8,"hours":12},"type":"temporal"},"y":{"datum":-79.6,"type":"quantitative"}}}
]
}
],
"spacing":0,
"bounds":"flush"
}
